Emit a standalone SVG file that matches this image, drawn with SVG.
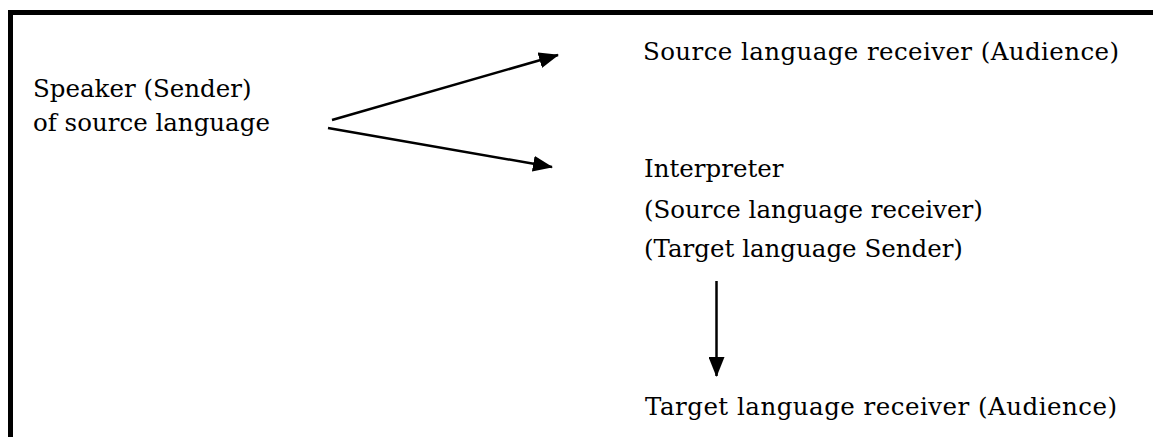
<svg xmlns="http://www.w3.org/2000/svg" width="1153" height="437" viewBox="0 0 1153 437">
  <defs>
    <style>
      .t { font-family: "DejaVu Serif", "Liberation Serif", serif; font-size: 24.5px; fill: #000; }
      .c { stroke: #000; stroke-width: 2.5; fill: none; }
      .frame { stroke: #000; stroke-width: 5; fill: none; }
    </style>
    <marker id="ah" markerUnits="userSpaceOnUse" markerWidth="20" markerHeight="16" refX="19" refY="8" orient="auto">
      <path d="M0,0 L20,8 L0,16 Z" fill="#000"/>
    </marker>
  </defs>
  <rect width="1153" height="437" fill="#fff"/>
  <g id="frame">
    <path class="frame" d="M10.5,437 L10.5,12.5 L1153,12.5"/>
  </g>
  <g id="speaker">
    <text class="t" x="33" y="97">Speaker (Sender)</text>
    <text class="t" x="33" y="131">of source language</text>
  </g>
  <g id="source-receiver">
    <text class="t" x="643" y="60" textLength="476">Source language receiver (Audience)</text>
  </g>
  <g id="interpreter">
    <text class="t" x="644" y="177">Interpreter</text>
    <text class="t" x="644" y="218">(Source language receiver)</text>
    <text class="t" x="644" y="257">(Target language Sender)</text>
  </g>
  <g id="target-receiver">
    <text class="t" x="645" y="415" textLength="472">Target language receiver (Audience)</text>
  </g>
  <g id="connectors">
    <line class="c" x1="332" y1="120" x2="558" y2="55" marker-end="url(#ah)"/>
    <line class="c" x1="328" y1="128" x2="552" y2="167" marker-end="url(#ah)"/>
    <line class="c" x1="716.5" y1="281" x2="716.5" y2="376" marker-end="url(#ah)"/>
  </g>
</svg>
